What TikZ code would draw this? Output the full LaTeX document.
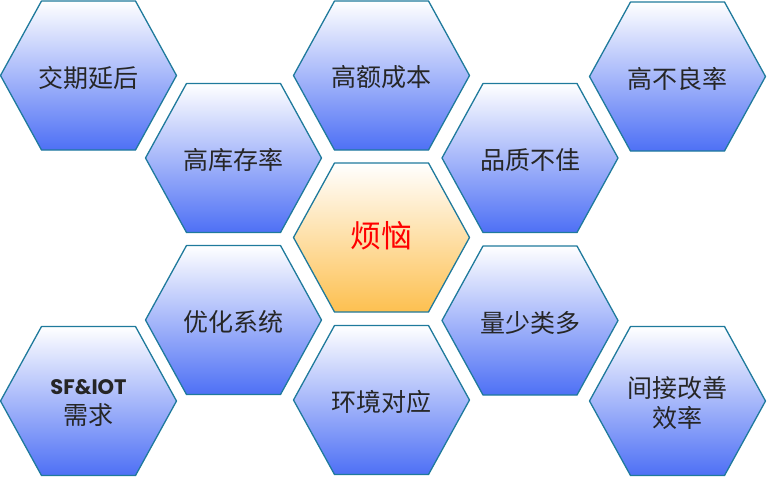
\documentclass[tikz,border=0pt]{standalone}
\usepackage{fontspec}
\setmainfont{Noto Sans CJK SC}
\newfontfamily\geofont{Poppins}
\definecolor{lineteal}{RGB}{31,122,156}
\definecolor{fillblue}{RGB}{78,112,245}
\definecolor{fillorange}{RGB}{253,192,80}
\definecolor{inkgray}{RGB}{38,38,38}
\tikzset{
	cell/.style={draw=lineteal, line width=1.3pt, line join=round, top color=white, middle color=fillblue!20, bottom color=fillblue},
	core/.style={draw=lineteal, line width=1.3pt, line join=round, top color=white, middle color=fillorange!35, bottom color=fillorange},
	label/.style={text=inkgray, align=center, font=\fontsize{25}{30}\selectfont},
}
\begin{document}
\begin{tikzpicture}[x=1pt, y=-1pt]
	\useasboundingbox (0,0) rectangle (767,477);
	% outer cells
	\foreach \x/\y/\name/\txt in {88.5/75.5/delay/交期延后, 381.5/75.5/cost/高额成本, 677.5/76.5/defect/高不良率,
		233.5/158/stock/高库存率, 530/158/quality/品质不佳,
		233.5/320/system/优化系统, 530/320.5/variety/量少类多,
		88.5/401/demand/{{\geofont\bfseries\fontsize{21}{28}\selectfont SF\&IOT}\\需求}, 381.5/400/environ/环境对应, 677.5/401/efficiency/{间接改善\\效率}}
	{
		\draw [cell] (\x-88,\y) -- ++(41,-74.5) -- ++(94,0) -- ++(41,74.5) -- ++(-41,74.5) -- ++(-94,0) -- cycle;
		\node [label] (\name) at (\x,\y+2) {\txt};
	}
	% center cell
	\draw [core] (293.5,237.5) -- ++(41,-74.5) -- ++(94,0) -- ++(41,74.5) -- ++(-41,74.5) -- ++(-94,0) -- cycle;
	\node [label, text=red, font=\fontsize{31}{36}\selectfont] (worry) at (381.5,236) {烦恼};
\end{tikzpicture}
\end{document}
